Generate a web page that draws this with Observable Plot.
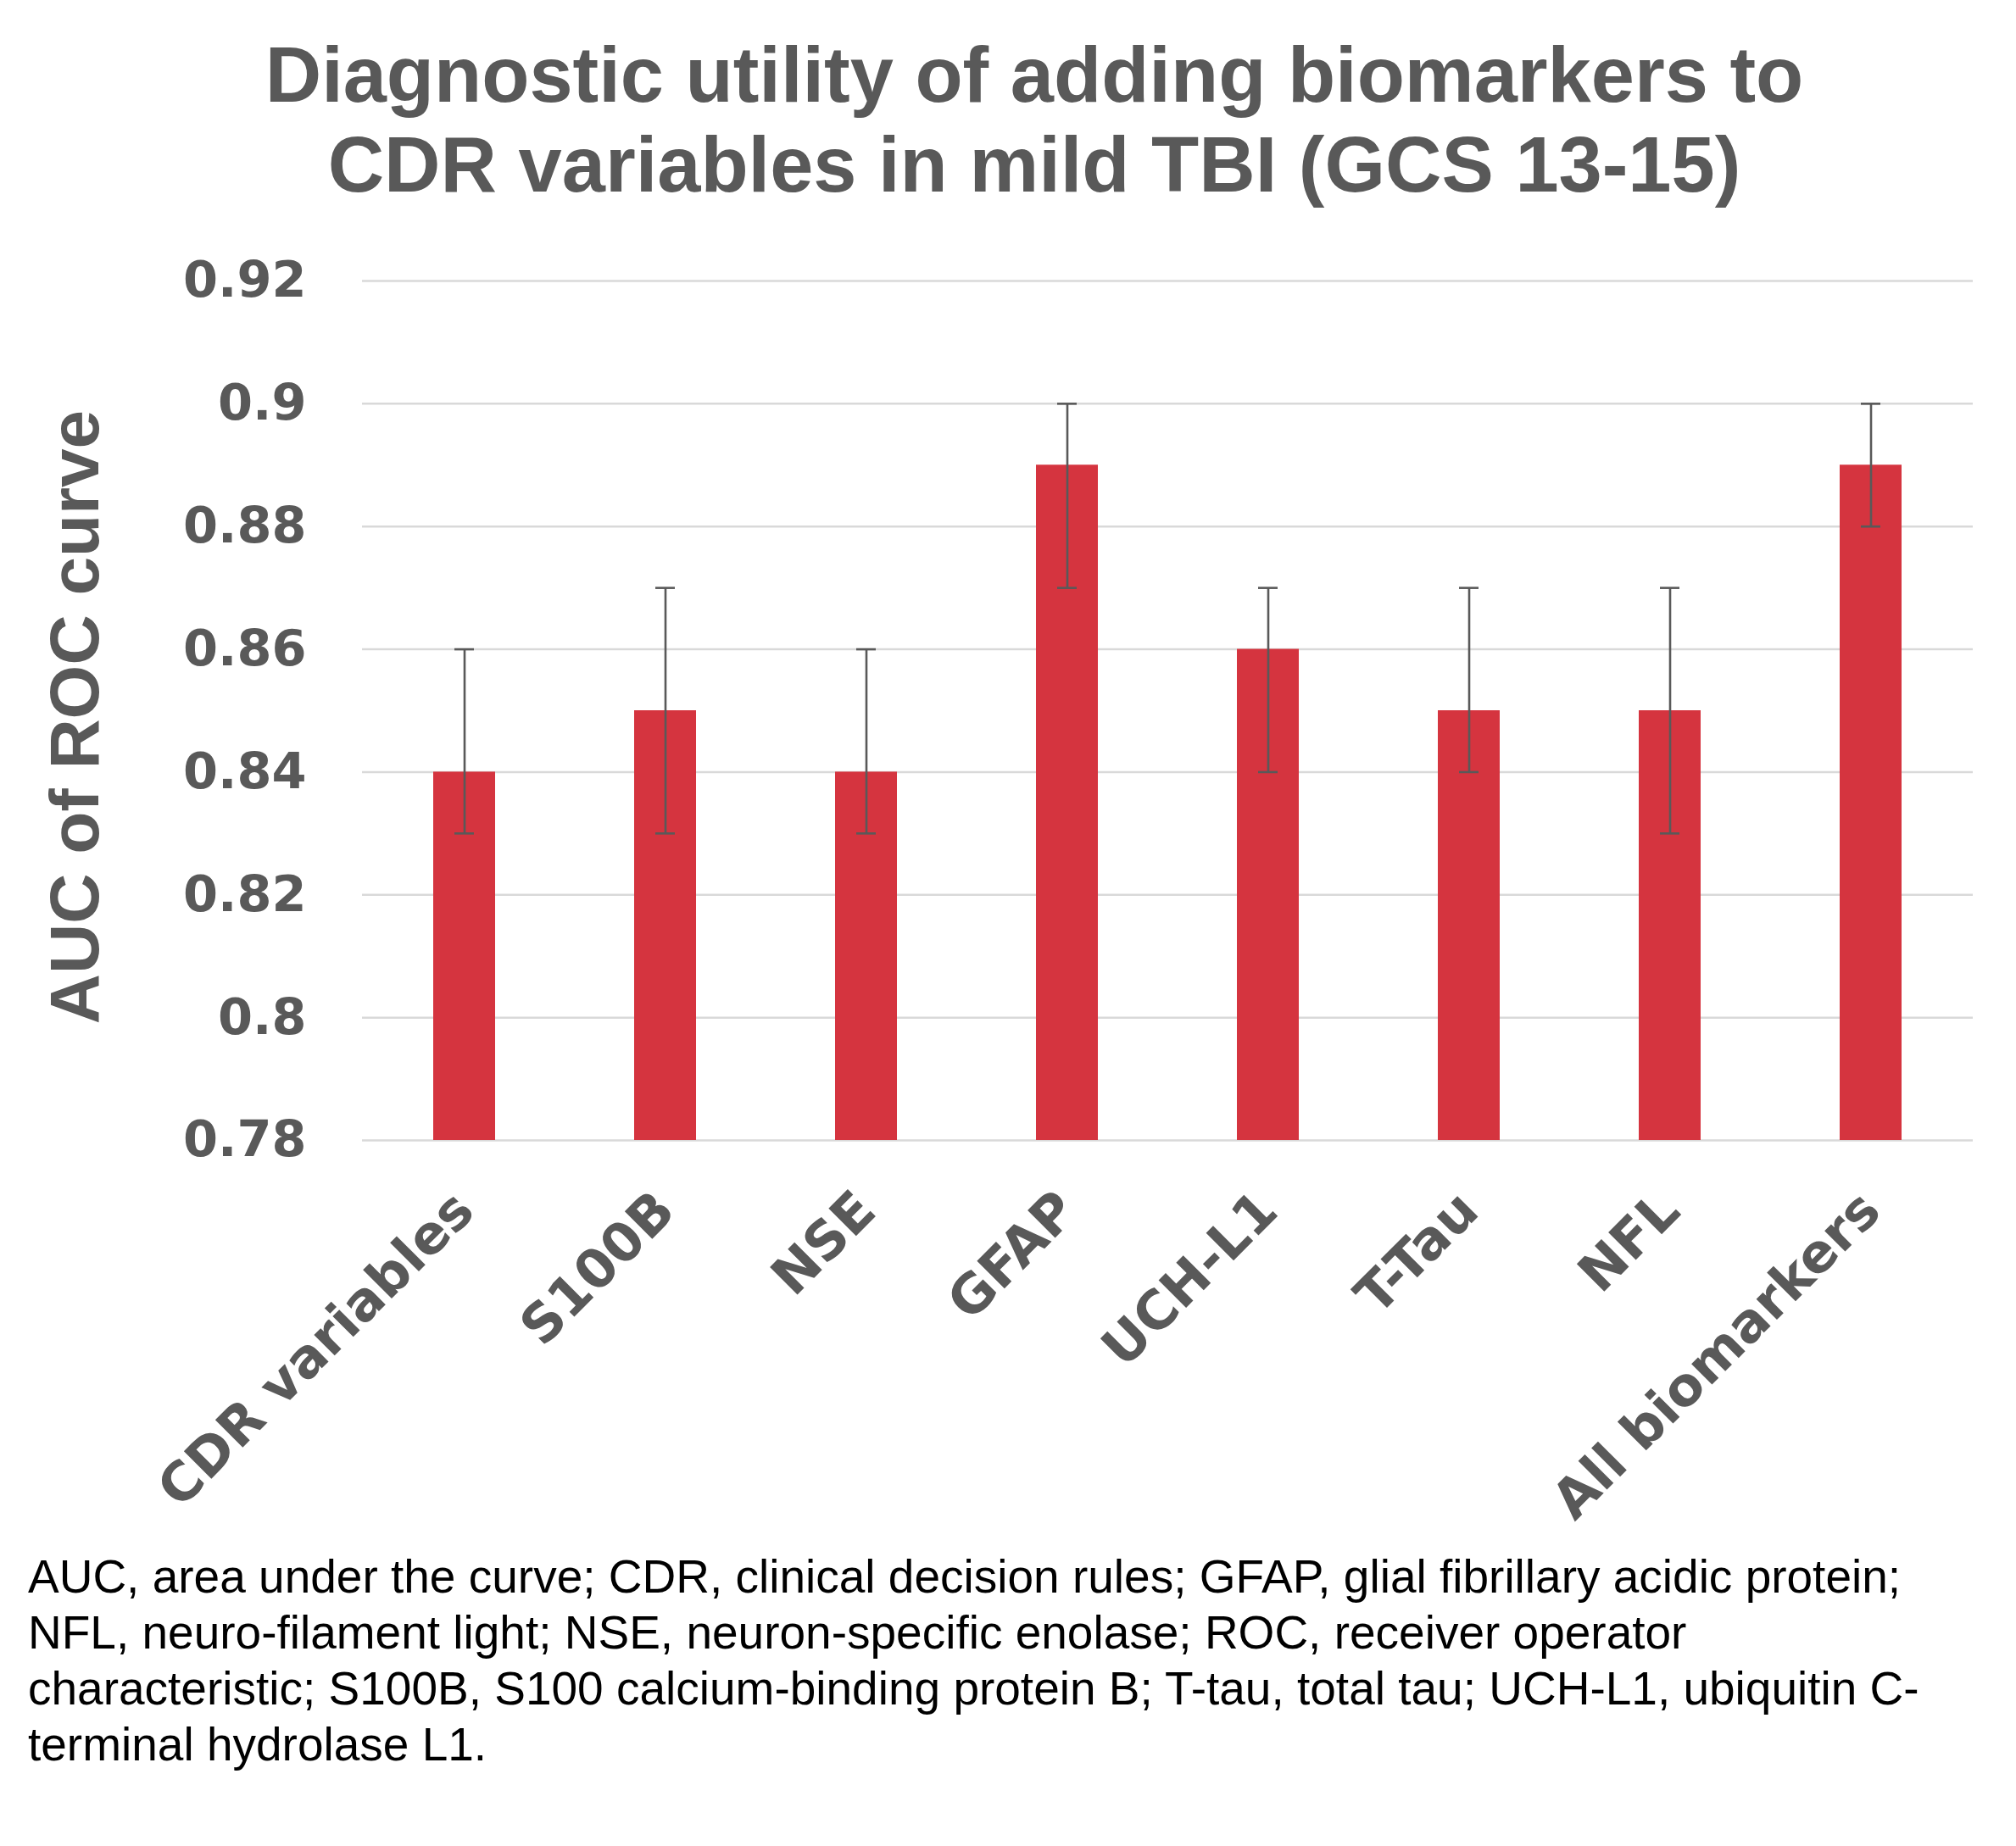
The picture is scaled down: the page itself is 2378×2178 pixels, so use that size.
<!DOCTYPE html>
<html>
<head>
<meta charset="utf-8">
<script src="https://cdn.jsdelivr.net/npm/d3@7"></script>
<script src="https://cdn.jsdelivr.net/npm/@observablehq/plot@0.6"></script>
<style>
  html, body { margin: 0; padding: 0; background: #fff; }
  #page { position: relative; width: 2378px; height: 2178px; overflow: hidden; background: #fff; }
  #title {
    position: absolute; left: 0; top: 35px; width: 2440px; text-align: center;
    font-family: "Liberation Sans", Arial, sans-serif; font-weight: bold;
    font-size: 92px; line-height: 106px; color: #595959;
  }
  #ylabel {
    position: absolute; left: 88px; top: 846px; white-space: nowrap;
    transform: translate(-50%, -50%) rotate(-90deg);
    font-family: "Liberation Sans", Arial, sans-serif; font-weight: bold;
    font-size: 82px; line-height: 1; color: #595959;
  }
  #chart { position: absolute; left: 0; top: 0; }
  #caption {
    position: absolute; left: 33px; top: 1827px; white-space: nowrap;
    font-family: "Liberation Sans", Arial, sans-serif; font-size: 55px;
    line-height: 66px; color: #000;
  }
</style>
</head>
<body>
<div id="page">
  <div id="chart"></div>
  <div id="title">Diagnostic utility of adding biomarkers to<br>CDR variables in mild TBI (GCS 13-15)</div>
  <div id="ylabel">AUC of ROC curve</div>
  <div id="caption">AUC, area under the curve; CDR, clinical decision rules; GFAP, glial fibrillary acidic protein;<br>NFL, neuro-filament light; NSE, neuron-specific enolase; ROC, receiver operator<br>characteristic; S100B, S100 calcium-binding protein B; T-tau, total tau; UCH-L1, ubiquitin C-<br>terminal hydrolase L1.</div>
</div>
<script>
const categories = ["CDR variables", "S100B", "NSE", "GFAP", "UCH-L1", "T-Tau", "NFL", "All biomarkers"];
const auc = [0.84, 0.85, 0.84, 0.89, 0.86, 0.85, 0.85, 0.89];
const lower = [0.83, 0.83, 0.83, 0.87, 0.84, 0.84, 0.83, 0.88];
const upper = [0.86, 0.87, 0.86, 0.90, 0.87, 0.87, 0.87, 0.90];
const yTicks = [0.78, 0.8, 0.82, 0.84, 0.86, 0.88, 0.9, 0.92];

const baseline = yTicks[0];
const data = categories.map((c, i) => ({cat: c, auc: auc[i], lo: lower[i], hi: upper[i], base: baseline}));

const labelFont = "'DejaVu Sans', Verdana, sans-serif";

const chart = Plot.plot({
  width: 2378,
  height: 1820,
  marginTop: 331,
  marginBottom: 475,
  marginLeft: 427,
  marginRight: 51,
  style: {
    fontFamily: labelFont,
    fontSize: "59px",
    fontWeight: "bold",
    color: "#595959",
    background: "transparent",
    overflow: "visible"
  },
  x: { domain: categories, paddingInner: 0.69, paddingOuter: 0.345, label: null },
  y: { domain: [yTicks[0], yTicks[yTicks.length - 1]], label: null },
  marks: [
    Plot.ruleY(yTicks, { stroke: "#d9d9d9", strokeWidth: 2.5 }),
    Plot.barY(data, { x: "cat", y1: "base", y2: "auc", fill: "#d5343f" }),
    Plot.ruleX(data, { x: "cat", y1: "lo", y2: "hi", stroke: "#595959", strokeWidth: 2.6 }),
    Plot.tickY(data, { x: "cat", y: "lo", stroke: "#595959", strokeWidth: 2.6, insetLeft: 25, insetRight: 25 }),
    Plot.tickY(data, { x: "cat", y: "hi", stroke: "#595959", strokeWidth: 2.6, insetLeft: 25, insetRight: 25 }),
    Plot.axisY({ ticks: yTicks, tickFormat: d => String(d), tickSize: 0, tickPadding: 66, label: null }),
    Plot.axisX({ tickRotate: -45, tickSize: 0, tickPadding: 72, fontSize: 63, label: null })
  ]
});
document.getElementById("chart").appendChild(chart);
</script>
</body>
</html>
